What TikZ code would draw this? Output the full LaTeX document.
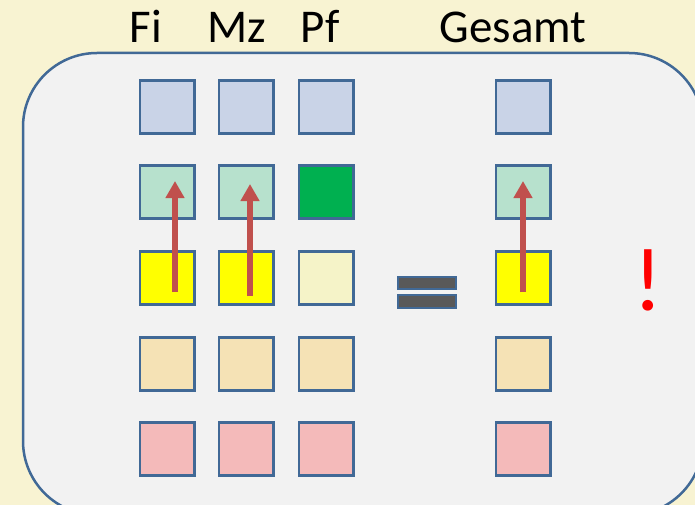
\documentclass[tikz,border=0pt]{standalone}
\usepackage{fontspec}
\setmainfont{Carlito}
\usetikzlibrary{arrows.meta}
\definecolor{bgcol}{RGB}{248,243,210}
\definecolor{panelcol}{RGB}{242,242,242}
\definecolor{edgecol}{RGB}{65,105,150}
\definecolor{cblue}{RGB}{201,211,231}
\definecolor{cmint}{RGB}{183,225,205}
\definecolor{cgreen}{RGB}{0,176,80}
\definecolor{cyellow}{RGB}{255,255,0}
\definecolor{cpale}{RGB}{245,243,200}
\definecolor{cwheat}{RGB}{245,226,181}
\definecolor{cpink}{RGB}{244,186,186}
\definecolor{arrowcol}{RGB}{192,80,77}
\definecolor{eqcol}{RGB}{89,89,89}
\tikzset{
  sq/.style={draw=edgecol, line width=2.5pt, minimum width=54.5pt, minimum height=53pt, inner sep=0pt},
  eqbar/.style={draw=edgecol, line width=2pt, fill=eqcol, minimum width=58pt, minimum height=12.5pt, inner sep=0pt},
  head/.style={font=\fontsize{47}{52}\selectfont, anchor=base, inner sep=0pt},
  up/.style={draw=arrowcol, line width=6pt, -{Triangle[length=17pt,width=18pt]}}
}
\begin{document}
\begin{tikzpicture}[x=1pt,y=-1pt]
\fill[bgcol] (0,0) rectangle (695,505);
\useasboundingbox (0,0) rectangle (695,505);
\draw[edgecol, fill=panelcol, line width=2.5pt, rounded corners=74pt] (23,53) rectangle (703,515);
% headings
\node[head] (hfi) at (146,43) {Fi};
\node[head] (hmz) at (237,43) {Mz};
\node[head] (hpf) at (320,43) {Pf};
\node[head] (hges) at (513,43) {Gesamt};
% column Fi
\node[sq, fill=cblue]   (fi1) at (167,107) {};
\node[sq, fill=cmint]   (fi2) at (167,192) {};
\node[sq, fill=cyellow] (fi3) at (167,278) {};
\node[sq, fill=cwheat]  (fi4) at (167,364) {};
\node[sq, fill=cpink]   (fi5) at (167,449) {};
% column Mz
\node[sq, fill=cblue]   (mz1) at (246,107) {};
\node[sq, fill=cmint]   (mz2) at (246,192) {};
\node[sq, fill=cyellow] (mz3) at (246,278) {};
\node[sq, fill=cwheat]  (mz4) at (246,364) {};
\node[sq, fill=cpink]   (mz5) at (246,449) {};
% column Pf
\node[sq, fill=cblue]   (pf1) at (326,107) {};
\node[sq, fill=cgreen]  (pf2) at (326,192) {};
\node[sq, fill=cpale]   (pf3) at (326,278) {};
\node[sq, fill=cwheat]  (pf4) at (326,364) {};
\node[sq, fill=cpink]   (pf5) at (326,449) {};
% column Gesamt
\node[sq, fill=cblue]   (g1) at (523,107) {};
\node[sq, fill=cmint]   (g2) at (523,192) {};
\node[sq, fill=cyellow] (g3) at (523,278) {};
\node[sq, fill=cwheat]  (g4) at (523,364) {};
\node[sq, fill=cpink]   (g5) at (523,449) {};
% equals sign
\node[eqbar] (eqa) at (427,283) {};
\node[eqbar] (eqb) at (427,301.5) {};
% exclamation
\node[text=red, font=\fontsize{90}{92}\selectfont, anchor=base, inner sep=0pt] (excl) at (648,310) {!};
% arrows
\coordinate (fia) at (175,292);
\coordinate (fib) at (175,181);
\coordinate (mza) at (250,296);
\coordinate (mzb) at (250,184);
\coordinate (ga) at (523,292);
\coordinate (gb) at (523,181);
\draw[up] (fia) -- (fib);
\draw[up] (mza) -- (mzb);
\draw[up] (ga) -- (gb);
\end{tikzpicture}
\end{document}
